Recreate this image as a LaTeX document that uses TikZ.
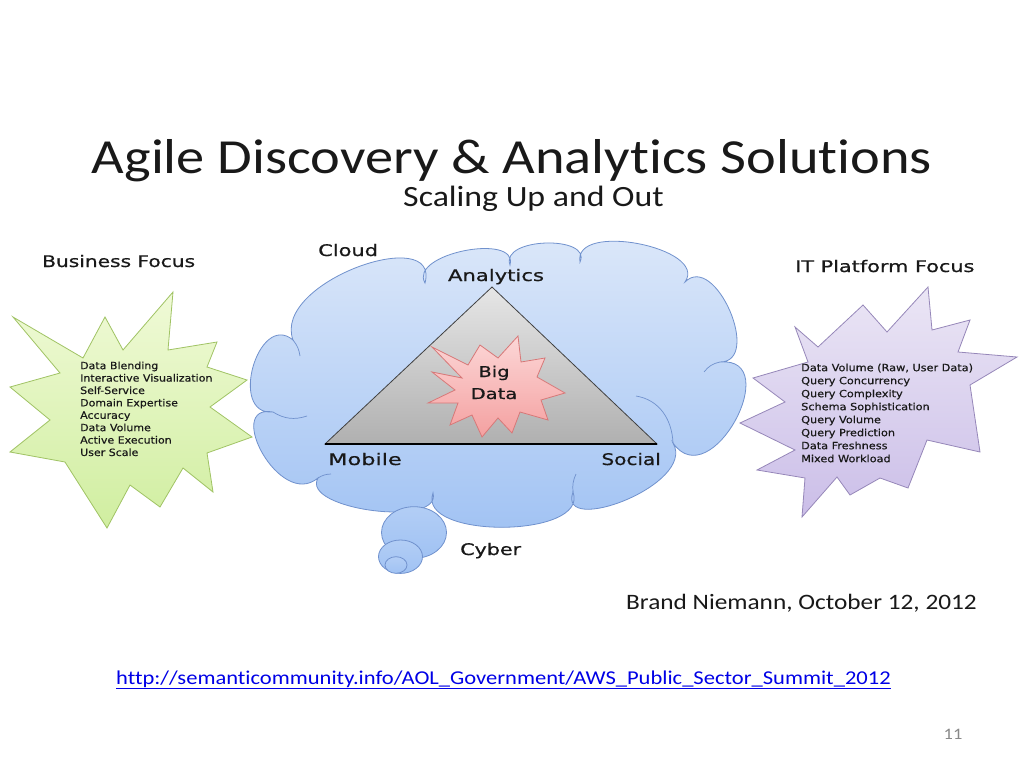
\documentclass[tikz,border=0pt]{standalone}
\usepackage{fontspec}
\setmainfont{DejaVu Sans}
\newfontfamily\calfont[Ligatures=NoCommon]{Carlito}
\newfontfamily\lblfont[FakeBold=0.6]{DejaVu Sans}
\newfontfamily\smfont[FakeBold=0.4]{DejaVu Sans}
\usepackage{graphicx}
\newcommand{\hs}[2]{\scalebox{#1}[1]{#2}}
\definecolor{cloudtop}{RGB}{222,233,250}
\definecolor{cloudbot}{RGB}{160,194,243}
\definecolor{cloudline}{RGB}{112,145,205}
\definecolor{greentop}{RGB}{240,250,215}
\definecolor{greenbot}{RGB}{208,238,160}
\definecolor{greenline}{RGB}{160,195,100}
\definecolor{purptop}{RGB}{235,230,245}
\definecolor{purpbot}{RGB}{203,190,232}
\definecolor{purpline}{RGB}{150,135,185}
\definecolor{pinktop}{RGB}{252,215,215}
\definecolor{pinkbot}{RGB}{244,160,160}
\definecolor{pinkline}{RGB}{215,120,120}
\definecolor{tritop}{RGB}{230,230,230}
\definecolor{tribot}{RGB}{176,176,176}
\definecolor{linkblue}{RGB}{0,0,230}
\definecolor{numgray}{RGB}{137,137,137}
\definecolor{textc}{RGB}{25,25,25}
\begin{document}
\begin{tikzpicture}[x=1pt,y=1pt,
  lbl/.style={inner sep=0, font=\lblfont\fontsize{16}{19}\selectfont, text=textc},
  startext/.style={inner sep=0, anchor=north west, text=textc},
  calt/.style={inner sep=0, text=textc},
  cloudst/.style={draw=cloudline, line width=0.8pt, top color=cloudtop, bottom color=cloudbot},
  bubst/.style={draw=cloudline, line width=0.8pt, top color=cloudbot!70!cloudtop, bottom color=cloudbot},
  cloudarc/.style={draw=cloudline, line width=0.7pt},
  greenst/.style={draw=greenline, line width=0.8pt, top color=greentop, bottom color=greenbot},
  purpst/.style={draw=purpline, line width=0.8pt, top color=purptop, bottom color=purpbot},
  pinkst/.style={draw=pinkline, line width=0.8pt, top color=pinktop, bottom color=pinkbot},
  trist/.style={draw=black!75, line width=0.8pt, top color=tritop, bottom color=tribot}
]
\useasboundingbox (0,0) rectangle (1024,-768);
\fill[white] (0,0) rectangle (1024,-768);

% ---------- cloud ----------
\coordinate (j11) at (273,-412);
\coordinate (j1) at (293,-340);
\coordinate (j2) at (425,-283);
\coordinate (j3) at (510,-265);
\coordinate (j4) at (580,-262);
\coordinate (j5) at (685,-282);
\coordinate (j6) at (720,-362);
\coordinate (j7) at (673,-443);
\coordinate (j8) at (573,-492);
\coordinate (j9) at (433,-493);
\coordinate (j10) at (318,-478);
\path[cloudst] (j11)
  to[out=185,in=140,looseness=1.55] (j1)
  to[out=110,in=75,looseness=1.1] (j2)
  to[out=120,in=75,looseness=1.0] (j3)
  to[out=110,in=65,looseness=1.08] (j4)
  to[out=100,in=55,looseness=1.0] (j5)
  to[out=45,in=0,looseness=1.25] (j6)
  to[out=5,in=-55,looseness=1.8] (j7)
  to[out=-60,in=-110,looseness=1.1] (j8)
  to[out=-70,in=-110,looseness=0.9] (j9)
  to[out=-75,in=-120,looseness=0.8] (j10)
  to[out=220,in=170,looseness=1.6] (j11) -- cycle;
% inner puff arcs
\draw[cloudarc] (j11) to[bend right=25] (307,-416);
\draw[cloudarc] (j1) to[bend left=15] (300,-356);
\draw[cloudarc] (j6) to[bend right=20] (704,-372);
\draw[cloudarc] (636,-396) .. controls (660,-400) and (672,-420) .. (j7);
\draw[cloudarc] (j8) to[bend left=15] (576,-474);
\draw[cloudarc] (j10) to[bend left=15] (331,-474);

% thought bubbles
\path[bubst] (414,-532.5) ellipse [x radius=32.5, y radius=25.8];
\path[bubst] (400.5,-556.7) ellipse [x radius=22, y radius=16.7];
\path[bubst] (396,-565) ellipse [x radius=11, y radius=8.3];

% ---------- triangle ----------
\coordinate (ta) at (492,-287);
\coordinate (tl) at (325,-444);
\coordinate (tr) at (657,-444);
\path[trist] (ta) -- (tr) -- (tl) -- cycle;
\draw[black, line width=1.2pt] (tl) -- (tr);

% ---------- big data star ----------
\path[pinkst] (432,-347) -- (468,-365) -- (480,-345) -- (498,-358) -- (518,-336)
  -- (521,-362) -- (545,-358) -- (537,-377) -- (565,-393) -- (541,-400)
  -- (548,-420) -- (520,-412) -- (512,-433) -- (498,-418) -- (482,-437)
  -- (472,-415) -- (450,-425) -- (458,-403) -- (428,-403) -- (455,-390)
  -- (432,-372) -- (462,-378) -- cycle;
\node[inner sep=0, anchor=base, font=\lblfont\fontsize{15}{18}\selectfont, text=textc] (big) at (494,-377) {\hs{1.3}{Big}};
\node[inner sep=0, anchor=base, font=\lblfont\fontsize{15}{18}\selectfont, text=textc] (data) at (494,-399) {\hs{1.3}{Data}};

% ---------- green star ----------
\path[greenst] (13,-317) -- (83,-358) -- (105,-317) -- (123,-350) -- (173,-292)
  -- (168,-350) -- (217,-342) -- (207,-367) -- (247,-380) -- (210,-407)
  -- (252,-437) -- (207,-453) -- (213,-492) -- (183,-468) -- (160,-507)
  -- (130,-485) -- (107,-528) -- (65,-462) -- (10,-452) -- (50,-420)
  -- (10,-387) -- (60,-373) -- cycle;
\node[startext] (gtext) at (80,-360.3) {\smfont\fontsize{10}{12.4}\selectfont\hs{1.1}{\begin{tabular}{@{}l@{}}Data Blending\\Interactive Visualization\\Self-Service\\Domain Expertise\\Accuracy\\Data Volume\\Active Execution\\User Scale\end{tabular}}};

% ---------- purple star ----------
\path[purpst] (795,-327) -- (818,-347) -- (863,-305) -- (887,-332) -- (928,-287)
  -- (932,-330) -- (970,-320) -- (958,-352) -- (1017,-357) -- (970,-385)
  -- (980,-452) -- (927,-440) -- (908,-488) -- (880,-478) -- (850,-495)
  -- (837,-477) -- (802,-517) -- (805,-478) -- (757,-470) -- (795,-450)
  -- (740,-423) -- (785,-402) -- (753,-378) -- (808,-362) -- cycle;
\node[startext] (ptext) at (801,-361.9) {\smfont\fontsize{10}{13}\selectfont\hs{1.127}{\begin{tabular}{@{}l@{}}Data Volume (Raw, User Data)\\Query Concurrency\\Query Complexity\\Schema Sophistication\\Query Volume\\Query Prediction\\Data Freshness\\Mixed Workload\end{tabular}}};

% ---------- labels ----------
\node[lbl, anchor=base west] (bfocus) at (42,-267) {\hs{1.26}{Business Focus}};
\node[lbl, anchor=base west] (itfocus) at (795,-272) {\hs{1.30}{IT Platform Focus}};
\node[lbl, anchor=base west] (cloud) at (318,-256) {\hs{1.31}{Cloud}};
\node[lbl, anchor=base] (analytics) at (496,-281) {\hs{1.32}{Analytics}};
\node[lbl, anchor=base west] (mobile) at (328,-465) {\hs{1.40}{Mobile}};
\node[lbl, anchor=base east] (social) at (661,-465) {\hs{1.25}{Social}};
\node[lbl, anchor=base west] (cyber) at (460,-555) {\hs{1.29}{Cyber}};

% ---------- slide texts ----------
\node[calt, anchor=base] (title) at (512,-173) {\calfont\fontsize{49}{55}\selectfont\hs{1.15}{Agile Discovery \& Analytics Solutions}};
\node[calt, anchor=base] (subtitle) at (533.5,-206) {\calfont\fontsize{29.4}{33}\selectfont\hs{1.15}{Scaling Up and Out}};
\node[calt, anchor=base west] (author) at (626,-609) {\calfont\fontsize{22}{26}\selectfont\hs{1.15}{Brand Niemann, October 12, 2012}};
\node[calt, anchor=base west, text=linkblue] (url) at (116,-684) {\calfont\fontsize{19.6}{23}\selectfont\hs{1.15}{\underline{http://semanticommunity.info/AOL\_Government/AWS\_Public\_Sector\_Summit\_2012}}};
\node[calt, anchor=base, text=numgray] (pagenum) at (953,-739) {\calfont\fontsize{16}{19}\selectfont\hs{1.15}{11}};
\end{tikzpicture}
\end{document}
